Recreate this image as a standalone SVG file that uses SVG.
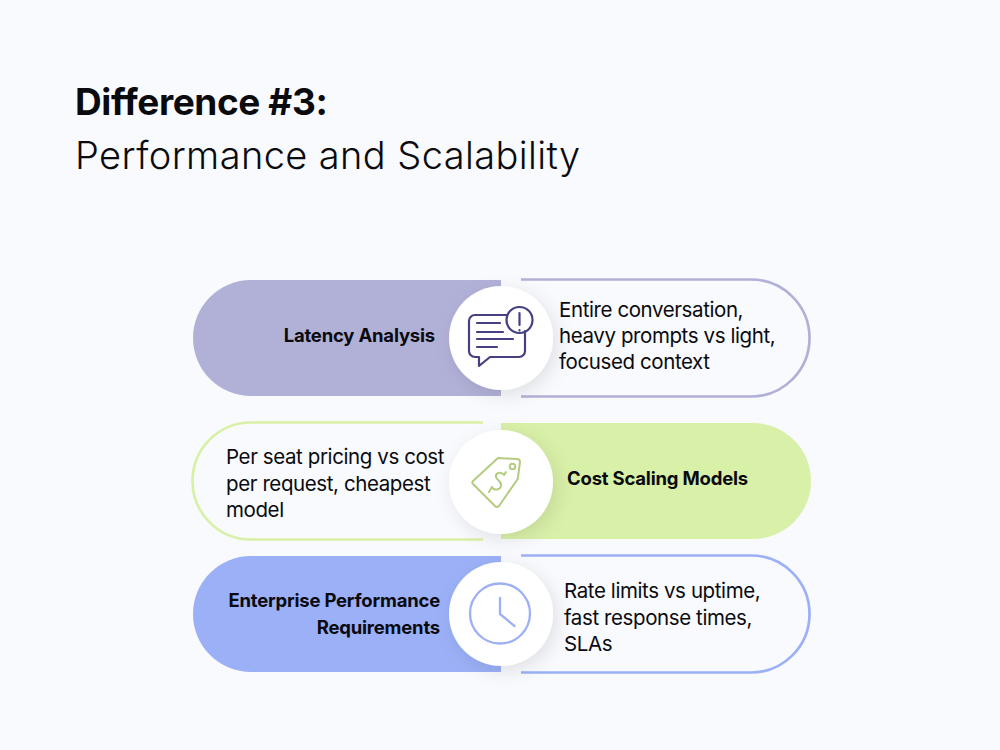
<svg xmlns="http://www.w3.org/2000/svg" width="1000" height="750" viewBox="0 0 1000 750">
<defs>
<filter id="sh" x="-40%" y="-40%" width="190%" height="190%"><feDropShadow dx="4" dy="5" stdDeviation="9" flood-color="#000" flood-opacity="0.10"/></filter>
</defs>
<style>
text{font-family:"Inter","Liberation Sans",sans-serif;fill:#0a0a0f}
.t{font-size:20.5px;letter-spacing:-.4px}
.b{font-size:18.5px;font-weight:700;letter-spacing:-.2px}
.c{fill:#fff;filter:url(#sh)}
.o{fill:none;stroke-width:2.700}
.i{fill:none;stroke-width:2.200;stroke-linecap:round;stroke-linejoin:round}
</style>
<rect width="1000" height="750" fill="#f8fafd"/>
<g id="title">
<text x="75" y="115" style="font-size:37px;font-weight:700;letter-spacing:-.4px">Difference #3:</text>
<text x="75" y="169" style="font-size:38px;font-weight:300;letter-spacing:.4px">Performance and Scalability</text>
</g>
<g id="connectors"/>
<g id="node-latency">
<path d="M501 280H251a58 58 0 0 0 0 116H501Z" fill="#b1b1d8"/>
<path class="o" stroke="#b1b1d8" d="M521 279.500H751a58.500 58.500 0 0 1 0 117H521"/>
<circle class="c" cx="501" cy="338" r="52"/>
<g class="i" stroke="#45407f">
<path d="M507 315H475a6 6 0 0 0-6 6V351a6 6 0 0 0 6 6h4v9l11-9h29a6 6 0 0 0 6-6V331"/>
<circle cx="519.500" cy="320" r="13"/>
<path d="M519.500 313v12M519.500 330v.5M477 323h23M477 332h26M477 339h36M477 347h20"/>
</g>
<text class="b" x="435" y="342" text-anchor="end">Latency Analysis</text>
<text class="t" x="559" y="317">Entire conversation,</text>
<text class="t" x="559" y="343">heavy prompts vs light,</text>
<text class="t" x="559" y="369">focused context</text>
</g>
<g id="node-cost">
<path d="M501 423H753a58 58 0 0 1 0 116H501Z" fill="#d9f0a8"/>
<path class="o" stroke="#d9f0a8" d="M483 422.500H251a58.500 58.500 0 0 0 0 117H483"/>
<circle class="c" cx="501" cy="482" r="52"/>
<g class="i" stroke="#b4cc80" style="stroke-width:2">
<path d="M498 458L473 481a2 2 0 0 0 0 3L495 506a3 3 0 0 0 4 0L517 480a4 4 0 0 0 1-3L520 462a3 3 0 0 0-3-3Z"/>
<circle cx="512.500" cy="466.500" r="2.800"/>
<path d="M504 475c-3-4-9-2-8 2c1 4 6 4 5 9c-1 4-7 5-9 1M506 472l-2 3M489 492l3-5"/>
</g>
<text class="t" x="226" y="464">Per seat pricing vs cost</text>
<text class="t" x="226" y="491">per request, cheapest</text>
<text class="t" x="226" y="517">model</text>
<text class="b" x="567" y="485">Cost Scaling Models</text>
</g>
<g id="node-enterprise">
<path d="M501 556H251a58 58 0 0 0 0 116H501Z" fill="#9bb0f7"/>
<path class="o" stroke="#9bb0f7" d="M521 555.500H751a58.500 58.500 0 0 1 0 117H521"/>
<circle class="c" cx="501" cy="614" r="52"/>
<g class="i" stroke="#9db0f5" style="stroke-width:2.300">
<circle cx="500" cy="613.500" r="30"/>
<path d="M500 598V614L514.500 626"/>
</g>
<text class="b" x="440" y="607" text-anchor="end">Enterprise Performance</text>
<text class="b" x="440" y="634" text-anchor="end">Requirements</text>
<text class="t" x="564" y="598">Rate limits vs uptime,</text>
<text class="t" x="564" y="625">fast response times,</text>
<text class="t" x="564" y="651">SLAs</text>
</g>
</svg>
